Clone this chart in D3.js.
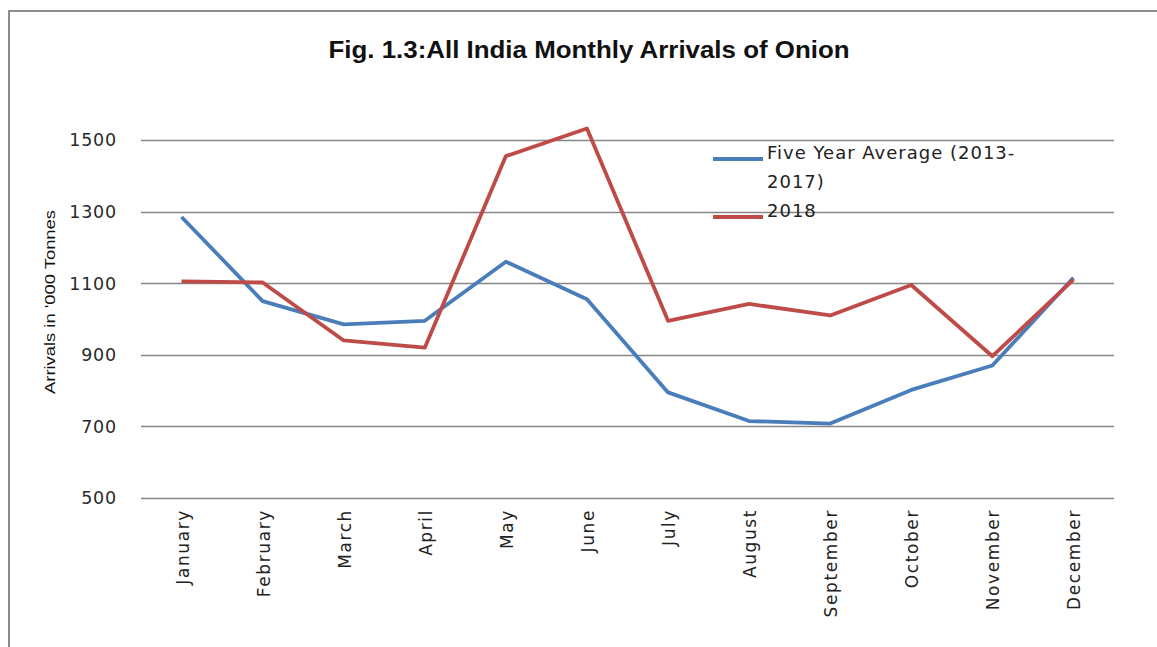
<!DOCTYPE html>
<html>
<head>
<meta charset="utf-8">
<script src="https://cdn.jsdelivr.net/npm/d3@7"></script>
<style>
  body { margin: 0; background: #fff; }
  svg { display: block; }
</style>
</head>
<body>
<div id="chart"></div>
<script>
var months = ["January", "February", "March", "April", "May", "June", "July",
              "August", "September", "October", "November", "December"];
var fiveYearAvg = [1285, 1050, 985, 995, 1160, 1055, 795, 715, 708, 802, 870, 1115];
var arrivals2018 = [1105, 1102, 940, 920, 1455, 1532, 995, 1042, 1010, 1095, 896, 1110];
var yTicks = [500, 700, 900, 1100, 1300, 1500];

var W = 1157, H = 647;
var margin = {top: 140, right: 43, bottom: 149, left: 141};

var svg = d3.select("#chart").append("svg")
    .attr("width", W).attr("height", H);

// chart frame
svg.append("path")
    .attr("d", "M9,647 V11 H1157")
    .attr("fill", "none")
    .attr("stroke", "#8c8c8c")
    .attr("stroke-width", 2);

var x = d3.scaleBand()
    .domain(months)
    .range([margin.left, W - margin.right]);

var y = d3.scaleLinear()
    .domain([500, 1500])
    .range([H - margin.bottom, margin.top]);

/* grid lines */
svg.append("g")
    .selectAll("line")
    .data(yTicks)
    .enter().append("line")
    .attr("x1", x.range()[0])
    .attr("x2", x.range()[1])
    .attr("y1", function(d) { return Math.round(y(d)) + 0.5; })
    .attr("y2", function(d) { return Math.round(y(d)) + 0.5; })
    .attr("stroke", "#868686")
    .attr("stroke-width", 1.3);

/* y tick labels */
svg.append("g")
    .selectAll("text")
    .data(yTicks)
    .enter().append("text")
    .attr("x", 117)
    .attr("y", function(d) { return y(d); })
    .attr("dy", "0.36em")
    .attr("text-anchor", "end")
    .style("font-family", "'DejaVu Sans', Verdana, sans-serif")
    .style("font-size", "17.5px")
    .style("letter-spacing", "0.8px")
    .style("fill", "#2a2a2a")
    .text(function(d) { return d; });

/* month labels */
svg.append("g")
    .selectAll("text")
    .data(months)
    .enter().append("text")
    .attr("transform", function(d) {
        return "translate(" + (x(d) + x.bandwidth() / 2 + 7) + "," + 509 + ") rotate(-90)";
    })
    .attr("text-anchor", "end")
    .style("font-family", "'DejaVu Sans', Verdana, sans-serif")
    .style("font-size", "17px")
    .style("letter-spacing", "1.6px")
    .style("fill", "#222")
    .text(function(d) { return d; });

/* axis title */
svg.append("text")
    .attr("transform", "translate(55,302) rotate(-90)")
    .attr("text-anchor", "middle")
    .attr("textLength", 184)
    .attr("lengthAdjust", "spacingAndGlyphs")
    .style("font-family", "'Liberation Sans', Arial, sans-serif")
    .style("font-size", "15px")
    .style("fill", "#111")
    .text("Arrivals in '000 Tonnes");

/* title */
svg.append("text")
    .attr("x", 589)
    .attr("y", 58)
    .attr("text-anchor", "middle")
    .attr("textLength", 521)
    .attr("lengthAdjust", "spacingAndGlyphs")
    .style("font-family", "'Liberation Sans', Arial, sans-serif")
    .style("font-weight", "bold")
    .style("font-size", "24px")
    .style("fill", "#111")
    .text("Fig. 1.3:All India Monthly Arrivals of Onion");

var line = d3.line()
    .x(function(d, i) { return x(months[i]) + x.bandwidth() / 2; })
    .y(function(d) { return y(d); });

var series = [
    {name: "five", values: fiveYearAvg, color: "#4a7ebb"},
    {name: "2018", values: arrivals2018, color: "#be4b48"}
];

svg.selectAll(".series")
    .data(series)
    .enter().append("path")
    .attr("class", "series")
    .attr("d", function(d) { return line(d.values); })
    .attr("fill", "none")
    .attr("stroke", function(d) { return d.color; })
    .attr("stroke-width", 3.8)
    .attr("stroke-linejoin", "round");

/* legend */
var legend = [
    {lines: ["Five Year Average (2013-", "2017)"], color: "#4a7ebb", y: 159},
    {lines: ["2018"], color: "#be4b48", y: 217}
];

var leg = svg.selectAll(".leg")
    .data(legend)
    .enter().append("g")
    .attr("class", "leg")
    .attr("transform", function(d) { return "translate(713," + d.y + ")"; });

leg.append("line")
    .attr("x1", 0).attr("x2", 50)
    .attr("stroke", function(d) { return d.color; })
    .attr("stroke-width", 3.8);

leg.append("text")
    .attr("x", 54)
    .attr("dy", "0.36em")
    .style("font-family", "'DejaVu Sans', Verdana, sans-serif")
    .style("font-size", "18px")
    .style("letter-spacing", "1px")
    .style("fill", "#222")
    .selectAll("tspan")
    .data(function(d) { return d.lines; })
    .enter().append("tspan")
    .attr("x", 54)
    .attr("dy", function(d, i) { return i === 0 ? 0 : 29; })
    .text(function(d) { return d; });
</script>
</body>
</html>
